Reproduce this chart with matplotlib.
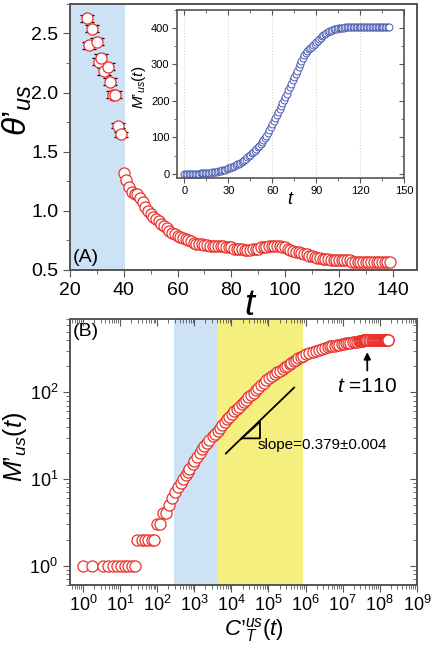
import numpy as np
import matplotlib
matplotlib.use("Agg")
import matplotlib.pyplot as plt
from matplotlib.ticker import LogLocator, MultipleLocator, NullFormatter

plt.rcParams['font.family'] = ['Liberation Sans', 'DejaVu Sans']
plt.rcParams['mathtext.fontset'] = 'custom'
plt.rcParams['mathtext.rm'] = 'Liberation Sans'
plt.rcParams['mathtext.it'] = 'Liberation Sans:italic'
plt.rcParams['mathtext.bf'] = 'Liberation Sans:bold'

###############################################
# panel (A): theta'_us vs t
t_early = [26.2, 27.2, 28.3, 29.9, 30.9, 31.5, 32.8, 34.0, 34.9, 36.1, 36.7, 37.7, 39.0]
theta_early = [2.63, 2.40, 2.54, 2.43, 2.26, 2.29, 2.18, 2.22, 2.09, 1.98, 1.98, 1.72, 1.645]
theta_err = [0.03, 0.03, 0.03, 0.03, 0.03, 0.04, 0.03, 0.03, 0.03, 0.03, 0.03, 0.02, 0.02]

t_late = list(range(40, 140))
theta_late = [1.32, 1.26, 1.20, 1.16, 1.14, 1.14, 1.11, 1.07, 1.03, 1.00,
              0.97, 0.95, 0.93, 0.91, 0.89, 0.87, 0.85, 0.83, 0.81, 0.80,
              0.79, 0.78, 0.77, 0.76, 0.75, 0.74, 0.73, 0.72, 0.72, 0.72,
              0.71, 0.71, 0.70, 0.70, 0.70, 0.70, 0.70, 0.70, 0.69, 0.69,
              0.69, 0.68, 0.68, 0.68, 0.68, 0.67, 0.67, 0.67, 0.68, 0.68,
              0.68, 0.69, 0.69, 0.69, 0.70, 0.70, 0.70, 0.70, 0.70, 0.69,
              0.69, 0.68, 0.67, 0.66, 0.65, 0.65, 0.64, 0.63, 0.63, 0.62,
              0.62, 0.61, 0.60, 0.60, 0.59, 0.59, 0.59, 0.58, 0.58, 0.58,
              0.58, 0.58, 0.58, 0.58, 0.58, 0.57, 0.57, 0.57, 0.57, 0.57,
              0.57, 0.57, 0.57, 0.57, 0.57, 0.57, 0.57, 0.57, 0.57, 0.57]

# inset and panel (B): M'_us(t), t = 0..140
t_all = list(range(0, 141))
M_us = ([1] * 11 + [2] * 6 + [3, 3, 4, 4] +
        [5, 6, 7, 8, 9, 10, 11, 12, 13] +
        [15, 16, 18, 20, 22, 24, 26, 28, 31, 33] +
        [36, 39, 42, 45, 49, 52, 56, 60, 64, 68] +
        [73, 77, 82, 87, 93, 99, 105, 112, 120, 128] +
        [137, 145, 153, 161, 169, 177, 186, 194, 203, 212] +
        [220, 229, 238, 247, 256, 265, 274, 283, 292, 301] +
        [310, 318, 326, 332, 337, 341, 345, 349, 353, 357] +
        [361, 365, 369, 373, 377, 381, 384, 387, 389, 391] +
        [393, 394, 396, 397, 398, 399, 400, 400, 401, 401] +
        [402] * 31)

# C'_T^us(t), t = 0..140
C_us = [1, 1.8, 3.5, 4.8, 6.6, 8.5, 10.5, 13.5, 16.5, 20.5, 25,
        29, 38, 47, 57, 71, 83, 97, 120, 146, 172,
        209, 251, 295, 363, 437, 507, 589, 661, 741,
        912, 1000, 1202, 1413, 1622, 1862, 2188, 2570, 3162, 3631,
        4266, 5012, 5754, 6607, 7762, 8710, 1.02e4, 1.17e4, 1.38e4, 1.58e4,
        1.91e4, 2.14e4, 2.51e4, 2.88e4, 3.39e4, 3.98e4, 4.57e4, 5.37e4, 6.31e4, 7.41e4,
        8.71e4, 1.05e5, 1.26e5, 1.48e5, 1.74e5, 2.04e5, 2.40e5, 2.75e5, 3.24e5, 3.72e5,
        4.17e5, 4.79e5, 5.50e5, 6.31e5, 7.41e5, 8.71e5, 1.05e6, 1.26e6, 1.55e6, 1.91e6,
        2.34e6, 2.82e6, 3.39e6, 3.98e6, 4.57e6, 5.25e6, 6.03e6, 6.92e6, 8.13e6, 9.33e6,
        1.07e7, 1.23e7, 1.41e7, 1.62e7, 1.86e7, 2.14e7, 2.40e7, 2.69e7, 2.95e7, 3.16e7,
        3.31e7, 3.47e7, 3.63e7, 3.80e7, 3.89e7, 3.98e7, 4.07e7, 4.17e7, 4.27e7, 4.37e7,
        4.57e7, 5.01e7, 5.50e7, 6.03e7, 6.46e7, 6.92e7, 7.41e7, 7.94e7, 8.32e7, 8.71e7,
        9.12e7, 9.55e7, 1.00e8, 1.05e8, 1.10e8, 1.12e8, 1.17e8, 1.20e8, 1.26e8, 1.29e8,
        1.32e8, 1.35e8, 1.38e8, 1.41e8, 1.45e8, 1.48e8, 1.51e8, 1.55e8, 1.58e8, 1.62e8,
        1.70e8]

# slope guide, triangle and arrow (data coords of panel B)
slope_C = [7.1e3, 4.9e5]
slope_M = [19.7, 113]
tri_C = [1.9e4, 5.9e4, 5.9e4, 1.9e4]
tri_M = [29.4, 29.4, 45.6, 29.4]
################################################

RED = '#e8312b'
BLUE = '#4a5bb0'
SPAN_BLUE = '#cde2f5'
SPAN_YELLOW = '#f4ef7e'
SPINE = '#555555'

fig = plt.figure(figsize=(4.32, 6.47), dpi=100)

def frame(ax, lw=1.4):
    for s in ax.spines.values():
        s.set_color(SPINE)
        s.set_linewidth(lw)

def inner_ticks(ax, xmaj, xmin, ymaj, ymin, log=False, lmaj=5, lmin=3):
    """ticks pointing inward on the top and right spines"""
    tx = ax.twiny()
    ty = ax.twinx()
    if log:
        tx.set_xscale('log')
        ty.set_yscale('log')
    tx.set_xlim(ax.get_xlim())
    ty.set_ylim(ax.get_ylim())
    tx.xaxis.set_major_locator(xmaj)
    tx.xaxis.set_minor_locator(xmin)
    ty.yaxis.set_major_locator(ymaj)
    ty.yaxis.set_minor_locator(ymin)
    tx.tick_params(which='both', direction='in', labeltop=False, color=SPINE)
    ty.tick_params(which='both', direction='in', labelright=False, color=SPINE)
    for a in (tx, ty):
        a.tick_params(which='major', length=lmaj)
        a.tick_params(which='minor', length=lmin)
        for s in a.spines.values():
            s.set_visible(False)

# ---- panel A
axA = fig.add_axes([0.162, 0.583, 0.803, 0.411])
axA.axvspan(20, 40.5, color=SPAN_BLUE, lw=0, zorder=0)
axA.plot(t_late, theta_late, 'o', ms=8, mfc='white', mec=RED, mew=0.9, zorder=3)
axA.errorbar(t_early, theta_early, yerr=theta_err, fmt='o', ms=8, mfc='white',
             mec=RED, mew=0.9, ecolor='black', elinewidth=0.8, capsize=5,
             capthick=0.9, zorder=4)
axA.set_xlim(20, 149)
axA.set_ylim(0.5, 2.75)
axA.xaxis.set_major_locator(MultipleLocator(20))
axA.xaxis.set_minor_locator(MultipleLocator(10))
axA.yaxis.set_major_locator(MultipleLocator(0.5))
axA.yaxis.set_minor_locator(MultipleLocator(0.25))
axA.tick_params(which='both', direction='out', labelsize=14, color=SPINE)
axA.tick_params(which='major', length=5)
axA.tick_params(which='minor', length=3)
axA.set_xlabel('$t$', fontsize=26)
axA.xaxis.set_label_coords(0.52, -0.07)
axA.set_ylabel('$\\theta\u2019_{us}$', fontsize=24)
axA.yaxis.set_label_coords(-0.105, 0.6)
axA.text(0.008, 0.015, '(A)', transform=axA.transAxes, fontsize=14,
         ha='left', va='bottom')
frame(axA)

# ---- inset
axI = fig.add_axes([0.410, 0.725, 0.525, 0.260])
axI.plot(t_all, M_us, 'o', ms=5, mfc='white', mec=BLUE, mew=0.7)
axI.set_xlim(-5, 150)
axI.set_ylim(-11, 450)
axI.xaxis.set_major_locator(MultipleLocator(30))
axI.xaxis.set_minor_locator(MultipleLocator(15))
axI.yaxis.set_major_locator(MultipleLocator(100))
axI.yaxis.set_minor_locator(MultipleLocator(50))
axI.xaxis.grid(True, ls=':', color='#d9d9b8', lw=0.8)
axI.tick_params(which='both', direction='out', labelsize=8, color=SPINE, pad=2)
axI.tick_params(which='major', length=3.5)
axI.tick_params(which='minor', length=2)
axI.set_xlabel('$t$', fontsize=13)
axI.xaxis.set_label_coords(0.5, -0.08)
axI.set_ylabel('$M\u2019_{us}(t)$', fontsize=11)
axI.yaxis.set_label_coords(-0.13, 0.54)
frame(axI, 1.2)
inner_ticks(axI, MultipleLocator(30), MultipleLocator(15),
            MultipleLocator(100), MultipleLocator(50), lmaj=3.5, lmin=2)

# ---- panel B
axB = fig.add_axes([0.162, 0.096, 0.803, 0.411])
axB.axvspan(280, 4100, color=SPAN_BLUE, lw=0, zorder=0)
axB.axvspan(4100, 8.5e5, color=SPAN_YELLOW, lw=0, zorder=0)
axB.plot(C_us, M_us, 'o', ms=8, mfc='white', mec=RED, mew=0.9, zorder=3)
axB.plot(C_us[-1:], M_us[-1:], 'o', ms=8, mfc='white', mec=RED, mew=0.9, zorder=4)
axB.plot(slope_C, slope_M, color='black', lw=1.3, zorder=4)
axB.plot(tri_C, tri_M, color='black', lw=1.3, zorder=4)
axB.text(5.0e4, 24.5, 'slope=0.379\u00b10.004', fontsize=11, ha='left', va='center')
axB.annotate('', xy=(4.6e7, 290), xytext=(4.6e7, 178),
             arrowprops=dict(arrowstyle='-|>', color='black', lw=1.3,
                             mutation_scale=10, shrinkA=0, shrinkB=0))
axB.text(4.6e7, 150, '$t$ =110', fontsize=15, ha='center', va='top')
axB.set_xscale('log')
axB.set_yscale('log')
axB.set_xlim(10 ** -0.35, 1e9)
axB.set_ylim(0.6, 700)
axB.xaxis.set_major_locator(LogLocator(base=10, numticks=20))
axB.xaxis.set_minor_locator(LogLocator(base=10, subs=np.arange(2, 10), numticks=100))
axB.xaxis.set_minor_formatter(NullFormatter())
axB.yaxis.set_major_locator(LogLocator(base=10, numticks=20))
axB.yaxis.set_minor_locator(LogLocator(base=10, subs=np.arange(2, 10), numticks=100))
axB.yaxis.set_minor_formatter(NullFormatter())
axB.tick_params(which='both', direction='out', labelsize=13, color=SPINE)
axB.tick_params(axis='x', pad=2)
axB.tick_params(which='major', length=5)
axB.tick_params(which='minor', length=3)
axB.set_xlabel('$C\u2019^{us}_{T}(t)$', fontsize=16)
axB.xaxis.set_label_coords(0.53, -0.118)
axB.set_ylabel('$M\u2019_{us}(t)$', fontsize=18)
axB.yaxis.set_label_coords(-0.118, 0.52)
axB.text(0.008, 0.985, '(B)', transform=axB.transAxes, fontsize=14,
         ha='left', va='top')
frame(axB)
inner_ticks(axB,
            LogLocator(base=10, numticks=20),
            LogLocator(base=10, subs=np.arange(2, 10), numticks=100),
            LogLocator(base=10, numticks=20),
            LogLocator(base=10, subs=np.arange(2, 10), numticks=100),
            log=True)

fig.savefig('out.png', dpi=100)
